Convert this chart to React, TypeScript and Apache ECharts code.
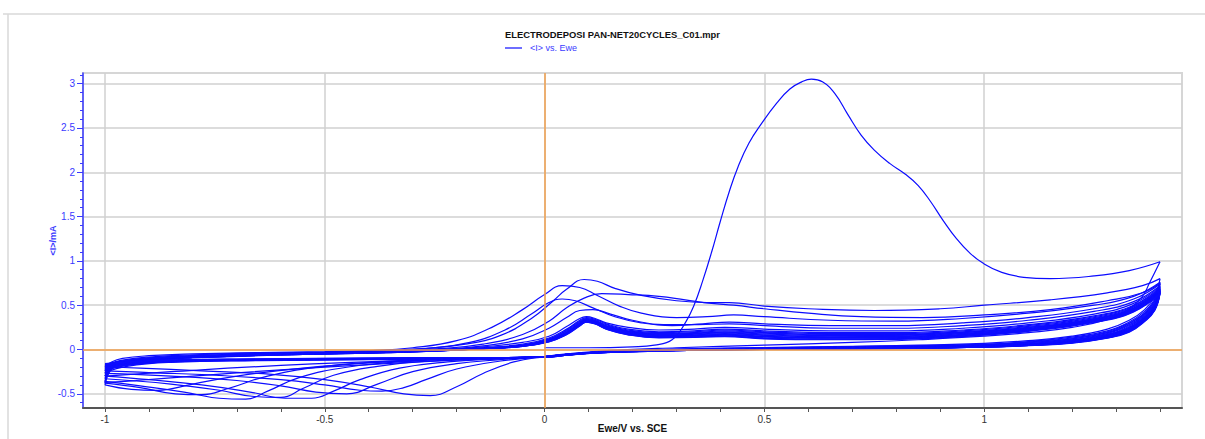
import { useEffect, useRef } from "react";
import * as echarts from "echarts";

// Text
const chartTitle = "ELECTRODEPOSI PAN-NET20CYCLES_C01.mpr";
const legendLabel = "<I> vs. Ewe";
const xAxisTitle = "Ewe/V vs. SCE";
const yAxisTitle = "<I>/mA";

// Axis ticks
const xMajorTicks = [-1, -0.5, 0, 0.5, 1];
const xMinorTicks = [-1, -0.9, -0.8, -0.7, -0.6, -0.5, -0.4, -0.3, -0.2, -0.1, 0, 0.1, 0.2, 0.3, 0.4, 0.5, 0.6, 0.7, 0.8, 0.9, 1, 1.1, 1.2, 1.3, 1.4];
const yMajorTicks = [-0.5, 0, 0.5, 1, 1.5, 2, 2.5, 3];
const yMinorTicks = [-0.6, -0.5, -0.4, -0.3, -0.2, -0.1, 0, 0.1, 0.2, 0.3, 0.4, 0.5, 0.6, 0.7, 0.8, 0.9, 1, 1.1, 1.2, 1.3, 1.4, 1.5, 1.6, 1.7, 1.8, 1.9, 2, 2.1, 2.2, 2.3, 2.4, 2.5, 2.6, 2.7, 2.8, 2.9, 3, 3.1];

// Anodic sweeps (Ewe in V, <I> in mA), cycles 1..20
const anodicSweeps: number[][][] = [
  [[0.0, 0.02], [0.1, 0.02], [0.2, 0.03], [0.25, 0.05], [0.29, 0.11], [0.32, 0.3], [0.34, 0.5], [0.36, 0.78], [0.38, 1.1], [0.4, 1.45], [0.42, 1.78], [0.44, 2.06], [0.465, 2.33], [0.495, 2.56], [0.528, 2.78], [0.558, 2.94], [0.585, 3.02], [0.607, 3.05], [0.632, 3.02], [0.66, 2.89], [0.69, 2.65], [0.72, 2.42], [0.75, 2.25], [0.785, 2.1], [0.82, 1.98], [0.85, 1.85], [0.878, 1.67], [0.906, 1.46], [0.937, 1.25], [0.967, 1.09], [0.997, 0.975], [1.04, 0.87], [1.09, 0.815], [1.15, 0.8], [1.25, 0.83], [1.33, 0.89], [1.4, 0.99]],
  [[-1.0, -0.2], [-0.985, -0.14], [-0.96, -0.1], [-0.9, -0.07], [-0.8, -0.05], [-0.65, -0.035], [-0.5, -0.025], [-0.38, -0.01], [-0.28, 0.01], [-0.18, 0.06], [-0.1, 0.16], [-0.03, 0.35], [0.02, 0.55], [0.05, 0.68], [0.09, 0.79], [0.12, 0.77], [0.16, 0.69], [0.22, 0.61], [0.3, 0.55], [0.37, 0.53], [0.42, 0.53], [0.5, 0.49], [0.6, 0.46], [0.75, 0.44], [0.9, 0.46], [1.0, 0.5], [1.15, 0.56], [1.28, 0.64], [1.36, 0.72], [1.4, 0.8]],
  [[-1.0, -0.24], [-0.985, -0.16], [-0.96, -0.12], [-0.9, -0.085], [-0.8, -0.06], [-0.65, -0.04], [-0.5, -0.03], [-0.4, -0.015], [-0.3, 0.02], [-0.2, 0.1], [-0.12, 0.25], [-0.05, 0.45], [0.0, 0.62], [0.04, 0.72], [0.08, 0.7], [0.12, 0.61], [0.17, 0.49], [0.22, 0.41], [0.3, 0.36], [0.37, 0.37], [0.43, 0.39], [0.5, 0.37], [0.65, 0.33], [0.8, 0.32], [0.95, 0.35], [1.1, 0.41], [1.25, 0.5], [1.34, 0.6], [1.4, 0.76]],
  [[-1.0, -0.27], [-0.985, -0.17], [-0.96, -0.13], [-0.9, -0.095], [-0.8, -0.07], [-0.65, -0.045], [-0.5, -0.035], [-0.38, -0.02], [-0.27, 0.01], [-0.17, 0.08], [-0.09, 0.22], [-0.03, 0.4], [0.01, 0.53], [0.04, 0.57], [0.07, 0.55], [0.11, 0.47], [0.16, 0.37], [0.22, 0.3], [0.29, 0.27], [0.36, 0.29], [0.42, 0.31], [0.5, 0.29], [0.65, 0.27], [0.8, 0.27], [0.95, 0.3], [1.1, 0.36], [1.25, 0.46], [1.34, 0.57], [1.4, 0.74]],
  [[-1.0, -0.3], [-0.985, -0.18], [-0.96, -0.14], [-0.9, -0.1], [-0.8, -0.075], [-0.65, -0.05], [-0.5, -0.04], [-0.36, -0.02], [-0.24, 0.01], [-0.14, 0.06], [-0.05, 0.17], [0.01, 0.32], [0.05, 0.47], [0.09, 0.58], [0.13, 0.63], [0.19, 0.62], [0.26, 0.6], [0.32, 0.56], [0.38, 0.52], [0.43, 0.5], [0.5, 0.46], [0.6, 0.41], [0.72, 0.37], [0.86, 0.36], [1.0, 0.39], [1.15, 0.45], [1.28, 0.55], [1.36, 0.64], [1.4, 0.75]],
  [[-1.0, -0.33], [-0.985, -0.19], [-0.96, -0.145], [-0.9, -0.11], [-0.8, -0.08], [-0.65, -0.055], [-0.5, -0.04], [-0.36, -0.025], [-0.24, 0.0], [-0.14, 0.04], [-0.05, 0.12], [0.01, 0.24], [0.05, 0.36], [0.08, 0.44], [0.11, 0.45], [0.15, 0.4], [0.2, 0.33], [0.27, 0.28], [0.35, 0.28], [0.42, 0.29], [0.5, 0.27], [0.65, 0.24], [0.8, 0.24], [0.95, 0.27], [1.1, 0.33], [1.25, 0.43], [1.34, 0.54], [1.4, 0.72]],
  [[-1.0, -0.36], [-0.985, -0.2], [-0.96, -0.15], [-0.9, -0.115], [-0.8, -0.085], [-0.65, -0.06], [-0.5, -0.045], [-0.36, -0.03], [-0.24, -0.005], [-0.14, 0.03], [-0.05, 0.08], [0.01, 0.15], [0.05, 0.26], [0.08, 0.35], [0.095, 0.37], [0.115, 0.35], [0.14, 0.3], [0.19, 0.25], [0.26, 0.22], [0.34, 0.23], [0.41, 0.25], [0.5, 0.23], [0.65, 0.21], [0.8, 0.21], [0.95, 0.24], [1.1, 0.3], [1.25, 0.4], [1.34, 0.52], [1.4, 0.71]],
  [[-1.0, -0.38], [-0.985, -0.21], [-0.96, -0.16], [-0.9, -0.12], [-0.8, -0.09], [-0.65, -0.065], [-0.5, -0.05], [-0.36, -0.03], [-0.24, -0.01], [-0.14, 0.02], [-0.05, 0.06], [0.01, 0.13], [0.05, 0.23], [0.08, 0.33], [0.095, 0.36], [0.115, 0.34], [0.14, 0.29], [0.19, 0.23], [0.26, 0.2], [0.34, 0.21], [0.41, 0.23], [0.5, 0.21], [0.65, 0.19], [0.8, 0.19], [0.95, 0.22], [1.1, 0.28], [1.25, 0.38], [1.34, 0.5], [1.4, 0.7]],
  [[-1.0, -0.4], [-0.985, -0.22], [-0.96, -0.165], [-0.9, -0.125], [-0.8, -0.095], [-0.65, -0.07], [-0.5, -0.05], [-0.36, -0.035], [-0.24, -0.015], [-0.14, 0.015], [-0.05, 0.05], [0.01, 0.12], [0.05, 0.22], [0.08, 0.32], [0.095, 0.35], [0.115, 0.33], [0.14, 0.28], [0.19, 0.22], [0.26, 0.19], [0.34, 0.2], [0.41, 0.22], [0.5, 0.2], [0.65, 0.18], [0.8, 0.18], [0.95, 0.21], [1.1, 0.27], [1.25, 0.37], [1.34, 0.49], [1.4, 0.69]],
  [[-1.0, -0.37], [-0.985, -0.21], [-0.96, -0.16], [-0.9, -0.12], [-0.8, -0.09], [-0.65, -0.065], [-0.5, -0.05], [-0.36, -0.035], [-0.24, -0.015], [-0.14, 0.015], [-0.05, 0.05], [0.01, 0.115], [0.05, 0.21], [0.08, 0.31], [0.095, 0.345], [0.115, 0.325], [0.14, 0.27], [0.19, 0.21], [0.26, 0.18], [0.34, 0.19], [0.41, 0.21], [0.5, 0.19], [0.65, 0.17], [0.8, 0.17], [0.95, 0.2], [1.1, 0.26], [1.25, 0.36], [1.34, 0.48], [1.4, 0.68]],
  [[-1.0, -0.3], [-0.985, -0.2], [-0.96, -0.155], [-0.9, -0.12], [-0.8, -0.09], [-0.65, -0.065], [-0.5, -0.05], [-0.36, -0.035], [-0.24, -0.015], [-0.14, 0.012], [-0.05, 0.045], [0.01, 0.11], [0.05, 0.2], [0.08, 0.3], [0.095, 0.34], [0.115, 0.32], [0.14, 0.265], [0.19, 0.205], [0.26, 0.175], [0.34, 0.185], [0.41, 0.2], [0.5, 0.185], [0.65, 0.165], [0.8, 0.165], [0.95, 0.195], [1.1, 0.25], [1.25, 0.35], [1.34, 0.47], [1.4, 0.68]],
  [[-1.0, -0.26], [-0.985, -0.19], [-0.96, -0.15], [-0.9, -0.115], [-0.8, -0.088], [-0.65, -0.063], [-0.5, -0.048], [-0.36, -0.034], [-0.24, -0.015], [-0.14, 0.01], [-0.05, 0.043], [0.01, 0.105], [0.05, 0.195], [0.08, 0.295], [0.095, 0.335], [0.115, 0.315], [0.14, 0.26], [0.19, 0.2], [0.26, 0.17], [0.34, 0.18], [0.41, 0.195], [0.5, 0.175], [0.65, 0.158], [0.8, 0.16], [0.95, 0.19], [1.1, 0.245], [1.25, 0.345], [1.34, 0.465], [1.4, 0.67]],
  [[-1.0, -0.24], [-0.985, -0.185], [-0.96, -0.148], [-0.9, -0.113], [-0.8, -0.086], [-0.65, -0.062], [-0.5, -0.047], [-0.36, -0.033], [-0.24, -0.014], [-0.14, 0.01], [-0.05, 0.042], [0.01, 0.1], [0.05, 0.19], [0.08, 0.29], [0.095, 0.33], [0.115, 0.31], [0.14, 0.255], [0.19, 0.195], [0.26, 0.165], [0.34, 0.172], [0.41, 0.188], [0.5, 0.165], [0.65, 0.15], [0.8, 0.153], [0.95, 0.183], [1.1, 0.24], [1.25, 0.34], [1.34, 0.46], [1.4, 0.67]],
  [[-1.0, -0.23], [-0.985, -0.18], [-0.96, -0.145], [-0.9, -0.11], [-0.8, -0.085], [-0.65, -0.061], [-0.5, -0.046], [-0.36, -0.032], [-0.24, -0.013], [-0.14, 0.01], [-0.05, 0.041], [0.01, 0.098], [0.05, 0.186], [0.08, 0.285], [0.095, 0.325], [0.115, 0.305], [0.14, 0.25], [0.19, 0.19], [0.26, 0.16], [0.34, 0.166], [0.41, 0.18], [0.5, 0.16], [0.65, 0.144], [0.8, 0.147], [0.95, 0.178], [1.1, 0.235], [1.25, 0.335], [1.34, 0.455], [1.4, 0.66]],
  [[-1.0, -0.22], [-0.985, -0.175], [-0.96, -0.142], [-0.9, -0.108], [-0.8, -0.083], [-0.65, -0.06], [-0.5, -0.045], [-0.36, -0.031], [-0.24, -0.012], [-0.14, 0.01], [-0.05, 0.04], [0.01, 0.096], [0.05, 0.182], [0.08, 0.28], [0.095, 0.32], [0.115, 0.3], [0.14, 0.245], [0.19, 0.185], [0.26, 0.155], [0.34, 0.16], [0.41, 0.172], [0.5, 0.15], [0.65, 0.138], [0.8, 0.14], [0.95, 0.172], [1.1, 0.23], [1.25, 0.33], [1.34, 0.45], [1.4, 0.66]],
  [[-1.0, -0.21], [-0.985, -0.17], [-0.96, -0.14], [-0.9, -0.106], [-0.8, -0.082], [-0.65, -0.059], [-0.5, -0.044], [-0.36, -0.03], [-0.24, -0.012], [-0.14, 0.01], [-0.05, 0.039], [0.01, 0.094], [0.05, 0.18], [0.08, 0.278], [0.095, 0.318], [0.115, 0.298], [0.14, 0.242], [0.19, 0.18], [0.26, 0.15], [0.34, 0.155], [0.41, 0.167], [0.5, 0.145], [0.65, 0.133], [0.8, 0.135], [0.95, 0.167], [1.1, 0.225], [1.25, 0.325], [1.34, 0.445], [1.4, 0.65]],
  [[-1.0, -0.2], [-0.985, -0.165], [-0.96, -0.137], [-0.9, -0.104], [-0.8, -0.08], [-0.65, -0.058], [-0.5, -0.043], [-0.36, -0.03], [-0.24, -0.011], [-0.14, 0.01], [-0.05, 0.038], [0.01, 0.092], [0.05, 0.177], [0.08, 0.275], [0.095, 0.315], [0.115, 0.295], [0.14, 0.238], [0.19, 0.176], [0.26, 0.146], [0.34, 0.15], [0.41, 0.162], [0.5, 0.14], [0.65, 0.128], [0.8, 0.13], [0.95, 0.162], [1.1, 0.22], [1.25, 0.32], [1.34, 0.44], [1.4, 0.65]],
  [[-1.0, -0.19], [-0.985, -0.16], [-0.96, -0.134], [-0.9, -0.102], [-0.8, -0.079], [-0.65, -0.057], [-0.5, -0.042], [-0.36, -0.029], [-0.24, -0.011], [-0.14, 0.01], [-0.05, 0.037], [0.01, 0.09], [0.05, 0.174], [0.08, 0.272], [0.095, 0.315], [0.115, 0.294], [0.14, 0.235], [0.19, 0.172], [0.26, 0.14], [0.34, 0.144], [0.41, 0.155], [0.5, 0.13], [0.65, 0.12], [0.8, 0.123], [0.95, 0.156], [1.1, 0.215], [1.25, 0.315], [1.34, 0.435], [1.4, 0.64]],
  [[-1.0, -0.18], [-0.985, -0.155], [-0.96, -0.13], [-0.9, -0.1], [-0.8, -0.078], [-0.65, -0.056], [-0.5, -0.041], [-0.36, -0.028], [-0.24, -0.01], [-0.14, 0.01], [-0.05, 0.036], [0.01, 0.088], [0.05, 0.17], [0.08, 0.268], [0.095, 0.31], [0.115, 0.29], [0.14, 0.232], [0.19, 0.168], [0.26, 0.136], [0.34, 0.14], [0.41, 0.15], [0.5, 0.125], [0.65, 0.115], [0.8, 0.118], [0.95, 0.15], [1.1, 0.21], [1.25, 0.31], [1.34, 0.43], [1.4, 0.64]],
  [[-1.0, -0.17], [-0.985, -0.15], [-0.96, -0.127], [-0.9, -0.098], [-0.8, -0.077], [-0.65, -0.055], [-0.5, -0.04], [-0.36, -0.027], [-0.24, -0.01], [-0.14, 0.01], [-0.05, 0.035], [0.01, 0.086], [0.05, 0.167], [0.08, 0.265], [0.095, 0.31], [0.115, 0.288], [0.14, 0.23], [0.19, 0.165], [0.26, 0.132], [0.34, 0.136], [0.41, 0.146], [0.5, 0.12], [0.65, 0.11], [0.8, 0.113], [0.95, 0.145], [1.1, 0.205], [1.25, 0.305], [1.34, 0.425], [1.4, 0.63]],
];

// Cathodic sweeps (Ewe in V, <I> in mA), cycles 1..20
const cathodicSweeps: number[][][] = [
  [[1.4, 0.99], [1.376, 0.75], [1.36, 0.6], [1.33, 0.46], [1.28, 0.34], [1.2, 0.25], [1.1, 0.19], [1.0, 0.15], [0.85, 0.11], [0.7, 0.08], [0.5, 0.05], [0.3, 0.02], [0.15, -0.01], [0.05, -0.05], [0.0, -0.08], [-0.07, -0.14], [-0.14, -0.27], [-0.2, -0.42], [-0.26, -0.52], [-0.32, -0.5], [-0.4, -0.42], [-0.5, -0.34], [-0.62, -0.28], [-0.78, -0.24], [-0.92, -0.21], [-1.0, -0.2]],
  [[1.4, 0.8], [1.388, 0.6], [1.365, 0.45], [1.33, 0.33], [1.28, 0.23], [1.2, 0.15], [1.1, 0.1], [1.0, 0.07], [0.8, 0.045], [0.6, 0.03], [0.4, 0.015], [0.25, 0.0], [0.12, -0.03], [0.05, -0.055], [0.0, -0.08], [-0.1, -0.13], [-0.2, -0.22], [-0.27, -0.34], [-0.32, -0.43], [-0.37, -0.47], [-0.42, -0.46], [-0.5, -0.4], [-0.6, -0.34], [-0.75, -0.29], [-0.9, -0.26], [-1.0, -0.24]],
  [[1.4, 0.76], [1.388, 0.57], [1.365, 0.43], [1.33, 0.31], [1.28, 0.21], [1.2, 0.14], [1.1, 0.09], [1.0, 0.06], [0.8, 0.04], [0.6, 0.025], [0.4, 0.01], [0.25, -0.005], [0.12, -0.03], [0.05, -0.055], [0.0, -0.08], [-0.1, -0.115], [-0.2, -0.16], [-0.3, -0.25], [-0.38, -0.39], [-0.45, -0.5], [-0.52, -0.48], [-0.6, -0.41], [-0.7, -0.35], [-0.85, -0.3], [-1.0, -0.27]],
  [[1.4, 0.74], [1.388, 0.55], [1.365, 0.41], [1.33, 0.3], [1.28, 0.2], [1.2, 0.13], [1.1, 0.085], [1.0, 0.055], [0.8, 0.035], [0.6, 0.02], [0.4, 0.01], [0.25, -0.005], [0.12, -0.03], [0.05, -0.055], [0.0, -0.08], [-0.1, -0.105], [-0.22, -0.14], [-0.33, -0.21], [-0.42, -0.34], [-0.48, -0.47], [-0.53, -0.55], [-0.59, -0.55], [-0.67, -0.48], [-0.78, -0.4], [-0.9, -0.34], [-1.0, -0.3]],
  [[1.4, 0.75], [1.388, 0.55], [1.365, 0.41], [1.33, 0.29], [1.28, 0.19], [1.2, 0.12], [1.1, 0.08], [1.0, 0.05], [0.8, 0.03], [0.6, 0.02], [0.4, 0.005], [0.25, -0.01], [0.12, -0.03], [0.05, -0.055], [0.0, -0.08], [-0.12, -0.1], [-0.26, -0.13], [-0.38, -0.19], [-0.48, -0.29], [-0.55, -0.44], [-0.6, -0.54], [-0.66, -0.53], [-0.74, -0.46], [-0.85, -0.39], [-1.0, -0.33]],
  [[1.4, 0.72], [1.388, 0.53], [1.365, 0.4], [1.33, 0.28], [1.28, 0.19], [1.2, 0.12], [1.1, 0.075], [1.0, 0.05], [0.8, 0.03], [0.6, 0.02], [0.4, 0.005], [0.25, -0.01], [0.12, -0.03], [0.05, -0.055], [0.0, -0.08], [-0.15, -0.1], [-0.3, -0.13], [-0.45, -0.2], [-0.56, -0.32], [-0.63, -0.47], [-0.68, -0.56], [-0.74, -0.55], [-0.82, -0.48], [-0.92, -0.41], [-1.0, -0.36]],
  [[1.4, 0.71], [1.388, 0.52], [1.365, 0.39], [1.33, 0.27], [1.28, 0.18], [1.2, 0.11], [1.1, 0.07], [1.0, 0.045], [0.8, 0.03], [0.6, 0.015], [0.4, 0.005], [0.25, -0.01], [0.12, -0.03], [0.05, -0.055], [0.0, -0.08], [-0.15, -0.1], [-0.32, -0.125], [-0.5, -0.19], [-0.63, -0.3], [-0.72, -0.44], [-0.78, -0.51], [-0.84, -0.5], [-0.92, -0.43], [-1.0, -0.38]],
  [[1.4, 0.7], [1.388, 0.51], [1.365, 0.38], [1.33, 0.26], [1.28, 0.17], [1.2, 0.105], [1.1, 0.065], [1.0, 0.045], [0.8, 0.025], [0.6, 0.015], [0.4, 0.005], [0.25, -0.01], [0.12, -0.03], [0.05, -0.055], [0.0, -0.08], [-0.18, -0.1], [-0.36, -0.14], [-0.55, -0.21], [-0.7, -0.3], [-0.8, -0.39], [-0.88, -0.46], [-0.94, -0.45], [-1.0, -0.4]],
  [[1.4, 0.69], [1.388, 0.5], [1.365, 0.37], [1.33, 0.25], [1.28, 0.165], [1.2, 0.1], [1.1, 0.06], [1.0, 0.04], [0.8, 0.025], [0.6, 0.015], [0.4, 0.005], [0.25, -0.01], [0.12, -0.03], [0.05, -0.055], [0.0, -0.08], [-0.2, -0.12], [-0.4, -0.17], [-0.6, -0.23], [-0.8, -0.3], [-0.93, -0.35], [-1.0, -0.37]],
  [[1.4, 0.68], [1.388, 0.49], [1.365, 0.36], [1.33, 0.24], [1.28, 0.16], [1.2, 0.095], [1.1, 0.055], [1.0, 0.035], [0.8, 0.02], [0.6, 0.01], [0.4, 0.0], [0.25, -0.015], [0.12, -0.035], [0.05, -0.06], [0.0, -0.08], [-0.3, -0.12], [-0.6, -0.18], [-0.85, -0.25], [-1.0, -0.3]],
  [[1.4, 0.68], [1.388, 0.49], [1.365, 0.36], [1.33, 0.24], [1.28, 0.155], [1.2, 0.09], [1.1, 0.055], [1.0, 0.035], [0.8, 0.02], [0.6, 0.01], [0.4, 0.0], [0.25, -0.015], [0.12, -0.035], [0.05, -0.06], [0.0, -0.08], [-0.15, -0.1], [-0.4, -0.115], [-0.65, -0.125], [-0.85, -0.145], [-0.95, -0.19], [-1.0, -0.26]],
  [[1.4, 0.67], [1.388, 0.48], [1.365, 0.355], [1.33, 0.235], [1.28, 0.15], [1.2, 0.088], [1.1, 0.053], [1.0, 0.034], [0.8, 0.019], [0.6, 0.01], [0.4, 0.0], [0.25, -0.015], [0.12, -0.035], [0.05, -0.06], [0.0, -0.082], [-0.15, -0.098], [-0.4, -0.112], [-0.65, -0.122], [-0.85, -0.14], [-0.95, -0.18], [-1.0, -0.24]],
  [[1.4, 0.67], [1.388, 0.475], [1.365, 0.35], [1.33, 0.23], [1.28, 0.148], [1.2, 0.086], [1.1, 0.052], [1.0, 0.033], [0.8, 0.018], [0.6, 0.009], [0.4, 0.0], [0.25, -0.016], [0.12, -0.036], [0.05, -0.061], [0.0, -0.083], [-0.15, -0.097], [-0.4, -0.11], [-0.65, -0.12], [-0.85, -0.137], [-0.95, -0.175], [-1.0, -0.23]],
  [[1.4, 0.66], [1.388, 0.47], [1.365, 0.345], [1.33, 0.225], [1.28, 0.145], [1.2, 0.084], [1.1, 0.05], [1.0, 0.032], [0.8, 0.017], [0.6, 0.008], [0.4, -0.002], [0.25, -0.016], [0.12, -0.036], [0.05, -0.062], [0.0, -0.084], [-0.15, -0.096], [-0.4, -0.108], [-0.65, -0.118], [-0.85, -0.134], [-0.95, -0.17], [-1.0, -0.22]],
  [[1.4, 0.66], [1.388, 0.465], [1.365, 0.34], [1.33, 0.22], [1.28, 0.142], [1.2, 0.082], [1.1, 0.049], [1.0, 0.031], [0.8, 0.016], [0.6, 0.008], [0.4, -0.002], [0.25, -0.017], [0.12, -0.037], [0.05, -0.062], [0.0, -0.085], [-0.15, -0.095], [-0.4, -0.106], [-0.65, -0.116], [-0.85, -0.131], [-0.95, -0.165], [-1.0, -0.21]],
  [[1.4, 0.65], [1.388, 0.46], [1.365, 0.335], [1.33, 0.215], [1.28, 0.14], [1.2, 0.08], [1.1, 0.048], [1.0, 0.03], [0.8, 0.015], [0.6, 0.007], [0.4, -0.003], [0.25, -0.017], [0.12, -0.037], [0.05, -0.063], [0.0, -0.086], [-0.15, -0.094], [-0.4, -0.104], [-0.65, -0.114], [-0.85, -0.128], [-0.95, -0.16], [-1.0, -0.2]],
  [[1.4, 0.65], [1.388, 0.455], [1.365, 0.33], [1.33, 0.21], [1.28, 0.137], [1.2, 0.078], [1.1, 0.047], [1.0, 0.029], [0.8, 0.014], [0.6, 0.006], [0.4, -0.003], [0.25, -0.018], [0.12, -0.038], [0.05, -0.063], [0.0, -0.087], [-0.15, -0.093], [-0.4, -0.102], [-0.65, -0.112], [-0.85, -0.125], [-0.95, -0.155], [-1.0, -0.19]],
  [[1.4, 0.64], [1.388, 0.45], [1.365, 0.325], [1.33, 0.205], [1.28, 0.134], [1.2, 0.076], [1.1, 0.046], [1.0, 0.028], [0.8, 0.013], [0.6, 0.006], [0.4, -0.004], [0.25, -0.018], [0.12, -0.038], [0.05, -0.064], [0.0, -0.088], [-0.15, -0.092], [-0.4, -0.1], [-0.65, -0.11], [-0.85, -0.122], [-0.95, -0.15], [-1.0, -0.18]],
  [[1.4, 0.64], [1.388, 0.445], [1.365, 0.32], [1.33, 0.2], [1.28, 0.131], [1.2, 0.074], [1.1, 0.045], [1.0, 0.027], [0.8, 0.012], [0.6, 0.005], [0.4, -0.004], [0.25, -0.019], [0.12, -0.039], [0.05, -0.064], [0.0, -0.089], [-0.15, -0.091], [-0.4, -0.098], [-0.65, -0.108], [-0.85, -0.12], [-0.95, -0.145], [-1.0, -0.17]],
  [[1.4, 0.63], [1.388, 0.44], [1.365, 0.315], [1.33, 0.195], [1.28, 0.128], [1.2, 0.072], [1.1, 0.044], [1.0, 0.026], [0.8, 0.011], [0.6, 0.004], [0.4, -0.005], [0.25, -0.019], [0.12, -0.039], [0.05, -0.065], [0.0, -0.09], [-0.15, -0.09], [-0.4, -0.096], [-0.65, -0.106], [-0.85, -0.118], [-0.95, -0.14], [-1.0, -0.16]],
];

const FONT = "'Liberation Sans', Arial, sans-serif";
const CURVE_BLUE = "#0c0cff";
const AXIS_BLUE = "#3a3aff";
const GRID_GRAY = "#d0d0d0";
const ORANGE = "#f2a14e";

export default function App() {
  const ref = useRef<HTMLDivElement>(null);

  useEffect(() => {
    document.body.style.margin = "0";
    if (!ref.current) return;
    const chart = echarts.init(ref.current, null, { renderer: "svg" });

    const sweeps: number[][][] = [];
    anodicSweeps.forEach((sweep, i) => {
      sweeps.push(sweep);
      sweeps.push(cathodicSweeps[i]);
    });

    const curveSeries = sweeps.map((sweep) => ({
      type: "line",
      data: sweep,
      xAxisIndex: 0,
      yAxisIndex: 0,
      showSymbol: false,
      symbol: "none",
      smooth: 0.45,
      silent: true,
      z: 3,
      lineStyle: { color: CURVE_BLUE, width: 1.2 },
    }));

    const crossHairSeries = {
      type: "line",
      data: [[0, 0]],
      xAxisIndex: 0,
      yAxisIndex: 0,
      showSymbol: false,
      symbol: "none",
      silent: true,
      z: 2,
      lineStyle: { opacity: 0 },
      markLine: {
        silent: true,
        symbol: ["none", "none"],
        label: { show: false },
        lineStyle: { color: ORANGE, width: 1.5, type: "solid" },
        data: [{ xAxis: 0 }, { yAxis: 0 }],
      },
    };

    chart.setOption({
      animation: false,
      backgroundColor: "#ffffff",
      grid: {
        left: 83,
        right: 23,
        top: 73,
        bottom: 31,
        show: true,
        borderColor: "#d6d6d6",
        borderWidth: 2,
        backgroundColor: "#ffffff",
      },
      xAxis: [
        {
          type: "value",
          min: -1.05,
          max: 1.45,
          position: "bottom",
          name: xAxisTitle,
          nameLocation: "middle",
          nameGap: 15,
          nameMoveOverlap: false,
          nameTextStyle: { color: "#111", fontSize: 10, fontWeight: "bold", fontFamily: FONT },
          axisLine: { show: true, onZero: false, lineStyle: { color: "#555", width: 2 } },
          axisTick: { show: true, customValues: xMajorTicks, length: 4, lineStyle: { color: "#555", width: 1 } },
          axisLabel: { customValues: xMajorTicks, color: "#333", fontSize: 10, margin: 6, fontFamily: FONT },
          splitLine: { show: true, lineStyle: { color: GRID_GRAY, width: 1.5 } },
        },
        {
          type: "value",
          min: -1.05,
          max: 1.45,
          position: "bottom",
          axisLine: { show: false, onZero: false },
          axisTick: { show: true, customValues: xMinorTicks, length: 4, lineStyle: { color: "#555", width: 1 } },
          axisLabel: { show: false },
          splitLine: { show: false },
        },
      ],
      yAxis: [
        {
          type: "value",
          min: -0.66,
          max: 3.12,
          position: "left",
          name: yAxisTitle,
          nameLocation: "middle",
          nameGap: 26,
          nameMoveOverlap: false,
          nameTextStyle: { color: AXIS_BLUE, fontSize: 9, fontWeight: "bold", fontFamily: FONT },
          axisLine: { show: true, onZero: false, lineStyle: { color: AXIS_BLUE, width: 1.5 } },
          axisTick: { show: true, customValues: yMajorTicks, length: 6, lineStyle: { color: AXIS_BLUE, width: 1 } },
          axisLabel: { customValues: yMajorTicks, color: AXIS_BLUE, fontSize: 10, margin: 8, fontFamily: FONT },
          splitLine: { show: true, lineStyle: { color: GRID_GRAY, width: 1.5 } },
        },
        {
          type: "value",
          min: -0.66,
          max: 3.12,
          position: "left",
          axisLine: { show: false, onZero: false },
          axisTick: { show: true, customValues: yMinorTicks, length: 3, lineStyle: { color: AXIS_BLUE, width: 1 } },
          axisLabel: { show: false },
          splitLine: { show: false },
        },
      ],
      graphic: [
        { type: "line", silent: true, shape: { x1: 3, y1: 14, x2: 1205, y2: 14 }, style: { stroke: "#d8d8d8", lineWidth: 1.5 } },
        { type: "line", silent: true, shape: { x1: 8, y1: 14, x2: 8, y2: 439 }, style: { stroke: "#d8d8d8", lineWidth: 1.5 } },
        {
          type: "text",
          left: 505,
          top: 30,
          silent: true,
          style: { text: chartTitle, fill: "#111", font: `bold 9.4px ${FONT}` },
        },
        { type: "line", silent: true, shape: { x1: 505, y1: 48, x2: 522, y2: 48 }, style: { stroke: CURVE_BLUE, lineWidth: 1.2 } },
        {
          type: "text",
          left: 530,
          top: 43,
          silent: true,
          style: { text: legendLabel, fill: AXIS_BLUE, font: `9px ${FONT}` },
        },
      ],
      series: [crossHairSeries, ...curveSeries],
    });

    return () => chart.dispose();
  }, []);

  return <div ref={ref} style={{ width: 1205, height: 439 }} />;
}
